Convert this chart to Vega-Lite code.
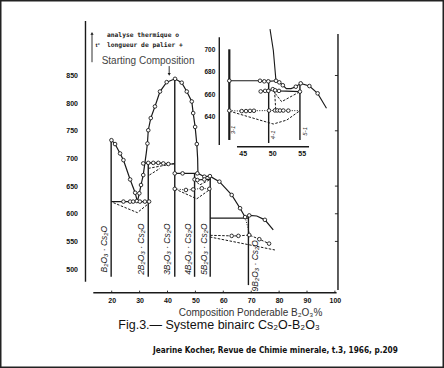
{
  "$schema": "https://vega.github.io/schema/vega-lite/v6.json",
  "width": 444,
  "height": 368,
  "autosize": "none",
  "padding": 0,
  "background": "white",
  "config": {"font": "Liberation Sans", "view": {"stroke": "#222", "strokeWidth": 3}},
  "datasets": {
    "ml": [
      {"s":"liq","t":"solid","i":1,"x":19.9,"y":733,"c":1},
      {"s":"liq","t":"solid","i":2,"x":21.2,"y":726,"c":1},
      {"s":"liq","t":"solid","i":3,"x":23.0,"y":709,"c":1},
      {"s":"liq","t":"solid","i":4,"x":24.2,"y":697,"c":1},
      {"s":"liq","t":"solid","i":5,"x":26.6,"y":662,"c":1},
      {"s":"liq","t":"solid","i":6,"x":28.4,"y":638,"c":1},
      {"s":"liq","t":"solid","i":7,"x":29.2,"y":622,"c":0},
      {"s":"liq","t":"solid","i":8,"x":29.9,"y":637,"c":1},
      {"s":"liq","t":"solid","i":9,"x":30.5,"y":652,"c":1},
      {"s":"liq","t":"solid","i":10,"x":31.3,"y":670,"c":1},
      {"s":"liq","t":"solid","i":11,"x":31.9,"y":692,"c":0},
      {"s":"liq","t":"solid","i":12,"x":32.4,"y":710,"c":0},
      {"s":"liq","t":"solid","i":13,"x":32.8,"y":727,"c":1},
      {"s":"liq","t":"solid","i":14,"x":33.1,"y":751,"c":1},
      {"s":"liq","t":"solid","i":15,"x":34.0,"y":773,"c":1},
      {"s":"liq","t":"solid","i":16,"x":35.5,"y":794,"c":1},
      {"s":"liq","t":"solid","i":17,"x":37.3,"y":821,"c":1},
      {"s":"liq","t":"solid","i":18,"x":39.7,"y":838,"c":1},
      {"s":"liq","t":"solid","i":19,"x":42.7,"y":844,"c":1},
      {"s":"liq","t":"solid","i":20,"x":45.1,"y":837,"c":1},
      {"s":"liq","t":"solid","i":21,"x":46.9,"y":821,"c":1},
      {"s":"liq","t":"solid","i":22,"x":48.7,"y":803,"c":1},
      {"s":"liq","t":"solid","i":23,"x":49.2,"y":782,"c":1},
      {"s":"liq","t":"solid","i":24,"x":49.9,"y":757,"c":1},
      {"s":"liq","t":"solid","i":25,"x":50.5,"y":726,"c":1},
      {"s":"liq","t":"solid","i":26,"x":50.8,"y":700,"c":0},
      {"s":"liq","t":"solid","i":27,"x":50.9,"y":673,"c":0},
      {"s":"liq","t":"solid","i":28,"x":53.2,"y":667,"c":1},
      {"s":"liq","t":"solid","i":29,"x":55.2,"y":668,"c":1},
      {"s":"liq","t":"solid","i":30,"x":58.6,"y":658,"c":1},
      {"s":"liq","t":"solid","i":31,"x":63.0,"y":634,"c":1},
      {"s":"liq","t":"solid","i":32,"x":66.0,"y":610,"c":1},
      {"s":"liq","t":"solid","i":33,"x":67.8,"y":594,"c":1},
      {"s":"liq","t":"solid","i":34,"x":69.3,"y":597,"c":1},
      {"s":"liq","t":"solid","i":35,"x":72.0,"y":596,"c":0},
      {"s":"liq","t":"solid","i":36,"x":74.9,"y":589,"c":1},
      {"s":"liq","t":"solid","i":37,"x":77.9,"y":571,"c":0},
      {"s":"h622","t":"solid","i":40,"x":19.8,"y":622,"c":0},
      {"s":"h622","t":"solid","i":41,"x":24.2,"y":622,"c":1},
      {"s":"h622","t":"solid","i":42,"x":26.6,"y":622,"c":1},
      {"s":"h622","t":"solid","i":43,"x":27.7,"y":622,"c":1},
      {"s":"h622","t":"solid","i":44,"x":29.0,"y":623,"c":1},
      {"s":"h622","t":"solid","i":45,"x":30.1,"y":622,"c":1},
      {"s":"h622","t":"solid","i":46,"x":31.9,"y":622,"c":1},
      {"s":"h622","t":"solid","i":47,"x":33.4,"y":622,"c":1},
      {"s":"h691","t":"solid","i":50,"x":31.3,"y":691,"c":1},
      {"s":"h691","t":"solid","i":51,"x":33.1,"y":692,"c":1},
      {"s":"h691","t":"solid","i":52,"x":34.9,"y":692,"c":1},
      {"s":"h691","t":"solid","i":53,"x":36.7,"y":692,"c":1},
      {"s":"h691","t":"solid","i":54,"x":38.5,"y":691,"c":1},
      {"s":"h691","t":"solid","i":55,"x":40.3,"y":690,"c":1},
      {"s":"h691","t":"solid","i":56,"x":42.6,"y":690,"c":0},
      {"s":"h673","t":"solid","i":60,"x":42.6,"y":673,"c":1},
      {"s":"h673","t":"solid","i":61,"x":45.4,"y":673,"c":1},
      {"s":"h673","t":"solid","i":62,"x":50.7,"y":673,"c":1},
      {"s":"h673","t":"solid","i":63,"x":50.9,"y":673,"c":0},
      {"s":"h662","t":"solid","i":65,"x":49.7,"y":662,"c":1},
      {"s":"h662","t":"solid","i":66,"x":50.7,"y":661,"c":1},
      {"s":"h662","t":"solid","i":67,"x":53.2,"y":662,"c":1},
      {"s":"h662","t":"solid","i":68,"x":55.3,"y":662,"c":0},
      {"s":"h592","t":"solid","i":70,"x":55.3,"y":592,"c":0},
      {"s":"h592","t":"solid","i":71,"x":69.0,"y":592,"c":0},
      {"s":"d645","t":"dotted","i":75,"x":42.6,"y":645,"c":1},
      {"s":"d645","t":"dotted","i":76,"x":46.6,"y":643,"c":1},
      {"s":"d645","t":"dotted","i":77,"x":49.2,"y":644,"c":1},
      {"s":"d645","t":"dotted","i":78,"x":52.3,"y":646,"c":1},
      {"s":"d645","t":"dotted","i":79,"x":55.0,"y":645,"c":1},
      {"s":"d9","t":"dotted","i":80,"x":67.8,"y":594,"c":0},
      {"s":"d9","t":"dotted","i":81,"x":69.6,"y":560,"c":0},
      {"s":"m1","t":"dashed","i":85,"x":20.6,"y":620,"c":0},
      {"s":"m1","t":"dashed","i":86,"x":29.2,"y":602,"c":0},
      {"s":"m1","t":"dashed","i":87,"x":33.1,"y":618,"c":0},
      {"s":"m2","t":"dashed","i":88,"x":33.1,"y":682,"c":0},
      {"s":"m2","t":"dashed","i":89,"x":42.6,"y":691,"c":0},
      {"s":"m3","t":"dashed","i":90,"x":33.5,"y":670,"c":0},
      {"s":"m3","t":"dashed","i":91,"x":37.3,"y":682,"c":0},
      {"s":"m4","t":"dashed","i":92,"x":42.6,"y":645,"c":0},
      {"s":"m4","t":"dashed","i":93,"x":50.5,"y":627,"c":0},
      {"s":"m4","t":"dashed","i":94,"x":55.2,"y":644,"c":0},
      {"s":"m5","t":"dashed","i":95,"x":49.7,"y":662,"c":0},
      {"s":"m5","t":"dashed","i":96,"x":51.5,"y":652,"c":0},
      {"s":"m5","t":"dashed","i":97,"x":55.3,"y":662,"c":0},
      {"s":"m6","t":"dashed","i":100,"x":55.3,"y":561,"c":0},
      {"s":"m6","t":"dashed","i":101,"x":63.0,"y":560,"c":1},
      {"s":"m6","t":"dashed","i":102,"x":65.4,"y":560,"c":1},
      {"s":"m6","t":"dashed","i":103,"x":69.3,"y":561.5,"c":1},
      {"s":"m6","t":"dashed","i":104,"x":72.9,"y":554,"c":1},
      {"s":"m6","t":"dashed","i":105,"x":76.4,"y":546,"c":1},
      {"s":"m7","t":"dashed","i":110,"x":55.2,"y":558,"c":0},
      {"s":"m7","t":"dashed","i":111,"x":69.6,"y":543.5,"c":0},
      {"s":"m7","t":"dashed","i":112,"x":78.5,"y":534.5,"c":0}
    ],
    "mr": [
      {"k":"compound","x":19.8,"x2":19.8,"y":733,"y2":486},
      {"k":"compound","x":33.1,"x2":33.1,"y":691,"y2":486},
      {"k":"compound","x":42.6,"x2":42.6,"y":844,"y2":486},
      {"k":"compound","x":49.7,"x2":49.7,"y":673,"y2":486},
      {"k":"compound","x":55.3,"x2":55.3,"y":668,"y2":486},
      {"k":"compound","x":69.0,"x2":69.0,"y":597,"y2":471},
      {"k":"axis","x":10.6,"x2":10.6,"y":477,"y2":948.6},
      {"k":"axis","x":13.4,"x2":100.6,"y":457.2,"y2":457.2},
      {"k":"axis","x":101.1,"x2":101.1,"y":462,"y2":925},
      {"k":"tick","x":100.0,"x2":101.1,"y":550,"y2":550},
      {"k":"tick","x":100.0,"x2":101.1,"y":600,"y2":600},
      {"k":"tick","x":100.0,"x2":101.1,"y":650,"y2":650},
      {"k":"tick","x":100.0,"x2":101.1,"y":750,"y2":750},
      {"k":"tick","x":100.0,"x2":101.1,"y":850,"y2":850},
      {"k":"tick","x":20,"x2":20,"y":457.2,"y2":461},
      {"k":"tick","x":30,"x2":30,"y":457.2,"y2":461},
      {"k":"tick","x":40,"x2":40,"y":457.2,"y2":461},
      {"k":"tick","x":50,"x2":50,"y":457.2,"y2":461},
      {"k":"tick","x":60,"x2":60,"y":457.2,"y2":461},
      {"k":"tick","x":70,"x2":70,"y":457.2,"y2":461},
      {"k":"tick","x":80,"x2":80,"y":457.2,"y2":461},
      {"k":"tick","x":90,"x2":90,"y":457.2,"y2":461},
      {"k":"tick","x":100,"x2":100,"y":457.2,"y2":461},
      {"k":"arrow","x":12.94,"x2":12.94,"y":874,"y2":925},
      {"k":"arrow","x":40.6,"x2":40.6,"y":867,"y2":853}
    ],
    "heads": [
      {"x":12.94,"y":926,"dir":"up"},
      {"x":40.6,"y":852,"dir":"down"}
    ],
    "cl": [
      {"x":17.35,"y":536,"text":"B₂O₃ · Cs₂O"},
      {"x":30.5,"y":536,"text":"2B₂O₃ · Cs₂O"},
      {"x":39.9,"y":536,"text":"3B₂O₃ · Cs₂O"},
      {"x":47.2,"y":536,"text":"4B₂O₃ · Cs₂O"},
      {"x":53.1,"y":536,"text":"5B₂O₃ · Cs₂O"},
      {"x":71.4,"y":506,"text":"9B₂O₃ · Cs₂O"}
    ],
    "notes": [
      {"k":"legend","x":18.3,"y":923,"text":"analyse thermique o"},
      {"k":"legend","x":18.3,"y":905,"text":"longueur de palier +"},
      {"k":"tdeg","x":14.2,"y":905,"text":"t°"},
      {"k":"start","x":16.4,"y":876.8,"text":"Starting Composition"},
      {"k":"title","x":58.5,"y":398.8,"text":"Fig.3.— Systeme binairc Cs₂O-B₂O₃"},
      {"k":"cite","x":78.7,"y":351.8,"text":"Jearine Kocher, Revue de Chimie minerale, t.3, 1966, p.209"}
    ],
    "il": [
      {"s":"iliq","t":"solid","i":1,"x":49.63,"y":718,"c":0},
      {"s":"iliq","t":"solid","i":2,"x":50.19,"y":699,"c":0},
      {"s":"iliq","t":"solid","i":3,"x":50.64,"y":672,"c":1},
      {"s":"iliq","t":"solid","i":4,"x":51.2,"y":670.6,"c":1},
      {"s":"iliq","t":"solid","i":5,"x":51.8,"y":668,"c":1},
      {"s":"iliq","t":"solid","i":6,"x":52.4,"y":665,"c":0},
      {"s":"iliq","t":"solid","i":7,"x":53.2,"y":665,"c":0},
      {"s":"iliq","t":"solid","i":8,"x":54.0,"y":666.7,"c":1},
      {"s":"iliq","t":"solid","i":9,"x":54.83,"y":669.7,"c":1},
      {"s":"iliq","t":"solid","i":10,"x":56.3,"y":667.3,"c":1},
      {"s":"iliq","t":"solid","i":11,"x":57.7,"y":660.8,"c":1},
      {"s":"iliq","t":"solid","i":12,"x":59.2,"y":647.5,"c":0},
      {"s":"i672","t":"solid","i":20,"x":42.73,"y":672,"c":1},
      {"s":"i672","t":"solid","i":21,"x":47.93,"y":672,"c":1},
      {"s":"i672","t":"solid","i":22,"x":48.66,"y":671.5,"c":1},
      {"s":"i672","t":"solid","i":23,"x":49.34,"y":671.5,"c":1},
      {"s":"i672","t":"solid","i":24,"x":50.64,"y":672,"c":0},
      {"s":"i662","t":"solid","i":30,"x":48.05,"y":662.5,"c":1},
      {"s":"i662","t":"solid","i":31,"x":48.8,"y":663,"c":1},
      {"s":"i662","t":"solid","i":32,"x":49.34,"y":663,"c":1},
      {"s":"i662","t":"solid","i":33,"x":50.1,"y":664.5,"c":1},
      {"s":"i662","t":"solid","i":34,"x":50.5,"y":663.5,"c":1},
      {"s":"i662","t":"solid","i":35,"x":51.15,"y":663,"c":1},
      {"s":"i662","t":"solid","i":36,"x":54.7,"y":662.3,"c":1},
      {"s":"i645","t":"dotted","i":40,"x":42.73,"y":645.4,"c":1},
      {"s":"i645","t":"dotted","i":41,"x":44.83,"y":645,"c":1},
      {"s":"i645","t":"dotted","i":42,"x":45.56,"y":645,"c":1},
      {"s":"i645","t":"dotted","i":43,"x":46.24,"y":645.2,"c":1},
      {"s":"i645","t":"dotted","i":44,"x":46.9,"y":645.3,"c":1},
      {"s":"i645","t":"dotted","i":45,"x":49.46,"y":645.5,"c":1},
      {"s":"i645","t":"dotted","i":46,"x":50.47,"y":645.6,"c":1},
      {"s":"i645","t":"dotted","i":47,"x":50.87,"y":645.6,"c":1},
      {"s":"i645","t":"dotted","i":48,"x":51.32,"y":645.5,"c":1},
      {"s":"i645","t":"dotted","i":49,"x":51.88,"y":645.5,"c":1},
      {"s":"i645","t":"dotted","i":50,"x":52.73,"y":645.4,"c":1},
      {"s":"i645","t":"dotted","i":51,"x":54.71,"y":645.4,"c":0},
      {"s":"im1","t":"dashed","i":60,"x":42.73,"y":645,"c":0},
      {"s":"im1","t":"dashed","i":61,"x":45.95,"y":640,"c":0},
      {"s":"im1","t":"dashed","i":62,"x":50.19,"y":633.5,"c":0},
      {"s":"im1","t":"dashed","i":63,"x":52.46,"y":637,"c":0},
      {"s":"im1","t":"dashed","i":64,"x":54.71,"y":645.4,"c":0},
      {"s":"im2","t":"dashed","i":70,"x":50.1,"y":663.5,"c":0},
      {"s":"im2","t":"dashed","i":71,"x":51.6,"y":653.4,"c":0},
      {"s":"im2","t":"dashed","i":72,"x":54.7,"y":662.3,"c":0},
      {"s":"im3","t":"dashed","i":75,"x":50.4,"y":663,"c":0},
      {"s":"im3","t":"dashed","i":76,"x":50.6,"y":646,"c":0}
    ],
    "ir": [
      {"k":"thick","x":42.73,"x2":42.73,"y":700,"y2":619.3},
      {"k":"compound","x":49.4,"x2":49.4,"y":672,"y2":616.6},
      {"k":"compound","x":54.7,"x2":54.7,"y":669,"y2":619.3},
      {"k":"axis","x":41.03,"x2":41.03,"y":614.8,"y2":710.7},
      {"k":"axis","x":44.03,"x2":56.24,"y":613.3,"y2":613.3}
    ],
    "itext": [
      {"x":43.4,"y":628.2,"text":"3-1"},
      {"x":50.16,"y":623.9,"text":"4-1"},
      {"x":55.5,"y":627,"text":"5-1"}
    ]
  },
  "layer": [
    {
      "encoding": {
        "x": {"field": "x", "type": "quantitative",
              "scale": {"domain": [-20.04, 139.1], "nice": false, "zero": false},
              "axis": {"orient": "bottom", "offset": -75.3, "values": [20,30,40,50,60,70,80,90,100],
                       "domain": false, "ticks": false, "grid": false, "labelFlush": false,
                       "labelPadding": 4, "labelFontSize": 7, "labelFontWeight": "bold", "labelColor": "#111",
                       "title": "Composition Ponderable B₂O₃%", "titleX": 250, "titleY": 19.5,
                       "titleBaseline": "middle", "titleFontSize": 10, "titleFontWeight": "normal", "titleColor": "#333"}},
        "y": {"field": "y", "type": "quantitative",
              "scale": {"domain": [321.1, 986.5], "nice": false, "zero": false},
              "axis": {"orient": "left", "offset": -85.5, "values": [500,550,600,650,700,750,800,850],
                       "domain": false, "ticks": false, "grid": false, "labelPadding": 8,
                       "labelFontSize": 7, "labelFontWeight": "bold", "labelColor": "#111", "title": null}}
      },
      "layer": [
        {"data": {"name": "mr"}, "transform": [{"filter": "datum.k === 'compound' || datum.k === 'axis'"}],
         "mark": {"type": "rule", "color": "#1a1a1a", "strokeWidth": 1.4},
         "encoding": {"x2": {"field": "x2"}, "y2": {"field": "y2"}}},
        {"data": {"name": "mr"}, "transform": [{"filter": "datum.k === 'tick' || datum.k === 'arrow'"}],
         "mark": {"type": "rule", "color": "#1a1a1a", "strokeWidth": 0.9},
         "encoding": {"x2": {"field": "x2"}, "y2": {"field": "y2"}}},
        {"data": {"name": "ml"}, "transform": [{"filter": "datum.t === 'solid'"}],
         "mark": {"type": "line", "color": "#1a1a1a", "strokeWidth": 1.2},
         "encoding": {"detail": {"field": "s"}, "order": {"field": "i"}}},
        {"data": {"name": "ml"}, "transform": [{"filter": "datum.t === 'dotted'"}],
         "mark": {"type": "line", "color": "#1a1a1a", "strokeWidth": 1, "strokeDash": [1, 1.5]},
         "encoding": {"detail": {"field": "s"}, "order": {"field": "i"}}},
        {"data": {"name": "ml"}, "transform": [{"filter": "datum.t === 'dashed'"}],
         "mark": {"type": "line", "color": "#1a1a1a", "strokeWidth": 1, "strokeDash": [2.5, 1.5]},
         "encoding": {"detail": {"field": "s"}, "order": {"field": "i"}}},
        {"data": {"name": "ml"}, "transform": [{"filter": "datum.c === 1"}],
         "mark": {"type": "point", "shape": "circle", "filled": true, "fill": "white", "stroke": "#1a1a1a", "strokeWidth": 0.9, "size": 13, "opacity": 1}},
        {"data": {"name": "heads"},
         "mark": {"type": "point", "filled": true, "color": "#1a1a1a", "size": 10, "opacity": 1},
         "encoding": {"shape": {"field": "dir", "type": "nominal", "legend": null,
                                "scale": {"domain": ["up", "down"], "range": ["triangle-up", "triangle-down"]}}}},
        {"data": {"name": "cl"},
         "mark": {"type": "text", "angle": 270, "align": "center", "baseline": "middle", "fontSize": 8.5, "fontStyle": "italic", "color": "#1a1a1a"},
         "encoding": {"text": {"field": "text"}}},
        {"data": {"name": "notes"}, "transform": [{"filter": "datum.k === 'legend'"}],
         "mark": {"type": "text", "align": "left", "baseline": "middle", "fontSize": 6.3, "fontWeight": "bold", "font": "DejaVu Sans Mono", "color": "#1a1a1a"},
         "encoding": {"text": {"field": "text"}}},
        {"data": {"name": "notes"}, "transform": [{"filter": "datum.k === 'tdeg'"}],
         "mark": {"type": "text", "align": "left", "baseline": "middle", "fontSize": 6, "fontWeight": "bold", "color": "#1a1a1a"},
         "encoding": {"text": {"field": "text"}}},
        {"data": {"name": "notes"}, "transform": [{"filter": "datum.k === 'start'"}],
         "mark": {"type": "text", "align": "left", "baseline": "middle", "fontSize": 10, "color": "#444"},
         "encoding": {"text": {"field": "text"}}},
        {"data": {"name": "notes"}, "transform": [{"filter": "datum.k === 'title'"}],
         "mark": {"type": "text", "align": "center", "baseline": "middle", "fontSize": 12.5, "color": "#111"},
         "encoding": {"text": {"field": "text"}}},
        {"data": {"name": "notes"}, "transform": [{"filter": "datum.k === 'cite'"}],
         "mark": {"type": "text", "align": "center", "baseline": "middle", "fontSize": 8.2, "fontWeight": "bold", "font": "Liberation Sans Narrow, DejaVu Sans Condensed, Liberation Sans", "color": "#111"},
         "encoding": {"text": {"field": "text"}}}
      ]
    },
    {
      "encoding": {
        "x": {"field": "x", "type": "quantitative",
              "scale": {"domain": [3.86, 79.12], "nice": false, "zero": false},
              "axis": {"orient": "bottom", "offset": -221.3, "values": [45, 50, 55],
                       "domain": false, "ticks": false, "grid": false, "labelFlush": false,
                       "labelPadding": 3, "labelFontSize": 7, "labelFontWeight": "bold", "labelColor": "#111", "title": null}},
        "y": {"field": "y", "type": "quantitative",
              "scale": {"domain": [416.3, 743.9], "nice": false, "zero": false},
              "axis": {"orient": "left", "offset": -219.3, "values": [640, 660, 680, 700],
                       "domain": false, "ticks": false, "grid": false, "labelPadding": 4.5,
                       "labelFontSize": 6.5, "labelFontWeight": "bold", "labelColor": "#111", "title": null}}
      },
      "layer": [
        {"data": {"name": "ir"}, "transform": [{"filter": "datum.k === 'thick'"}],
         "mark": {"type": "rule", "color": "#1a1a1a", "strokeWidth": 2.2},
         "encoding": {"x2": {"field": "x2"}, "y2": {"field": "y2"}}},
        {"data": {"name": "ir"}, "transform": [{"filter": "datum.k !== 'thick'"}],
         "mark": {"type": "rule", "color": "#1a1a1a", "strokeWidth": 1.4},
         "encoding": {"x2": {"field": "x2"}, "y2": {"field": "y2"}}},
        {"data": {"name": "il"}, "transform": [{"filter": "datum.t === 'solid'"}],
         "mark": {"type": "line", "color": "#1a1a1a", "strokeWidth": 1.1},
         "encoding": {"detail": {"field": "s"}, "order": {"field": "i"}}},
        {"data": {"name": "il"}, "transform": [{"filter": "datum.t === 'dotted'"}],
         "mark": {"type": "line", "color": "#1a1a1a", "strokeWidth": 1, "strokeDash": [1, 1.5]},
         "encoding": {"detail": {"field": "s"}, "order": {"field": "i"}}},
        {"data": {"name": "il"}, "transform": [{"filter": "datum.t === 'dashed'"}],
         "mark": {"type": "line", "color": "#1a1a1a", "strokeWidth": 1, "strokeDash": [2.5, 1.5]},
         "encoding": {"detail": {"field": "s"}, "order": {"field": "i"}}},
        {"data": {"name": "il"}, "transform": [{"filter": "datum.c === 1"}],
         "mark": {"type": "point", "shape": "circle", "filled": true, "fill": "white", "stroke": "#1a1a1a", "strokeWidth": 0.9, "size": 13, "opacity": 1}},
        {"data": {"name": "itext"},
         "mark": {"type": "text", "angle": 270, "align": "center", "baseline": "middle", "fontSize": 6, "fontStyle": "italic", "color": "#1a1a1a"},
         "encoding": {"text": {"field": "text"}}}
      ]
    }
  ],
  "resolve": {"scale": {"x": "independent", "y": "independent", "shape": "independent"}}
}
